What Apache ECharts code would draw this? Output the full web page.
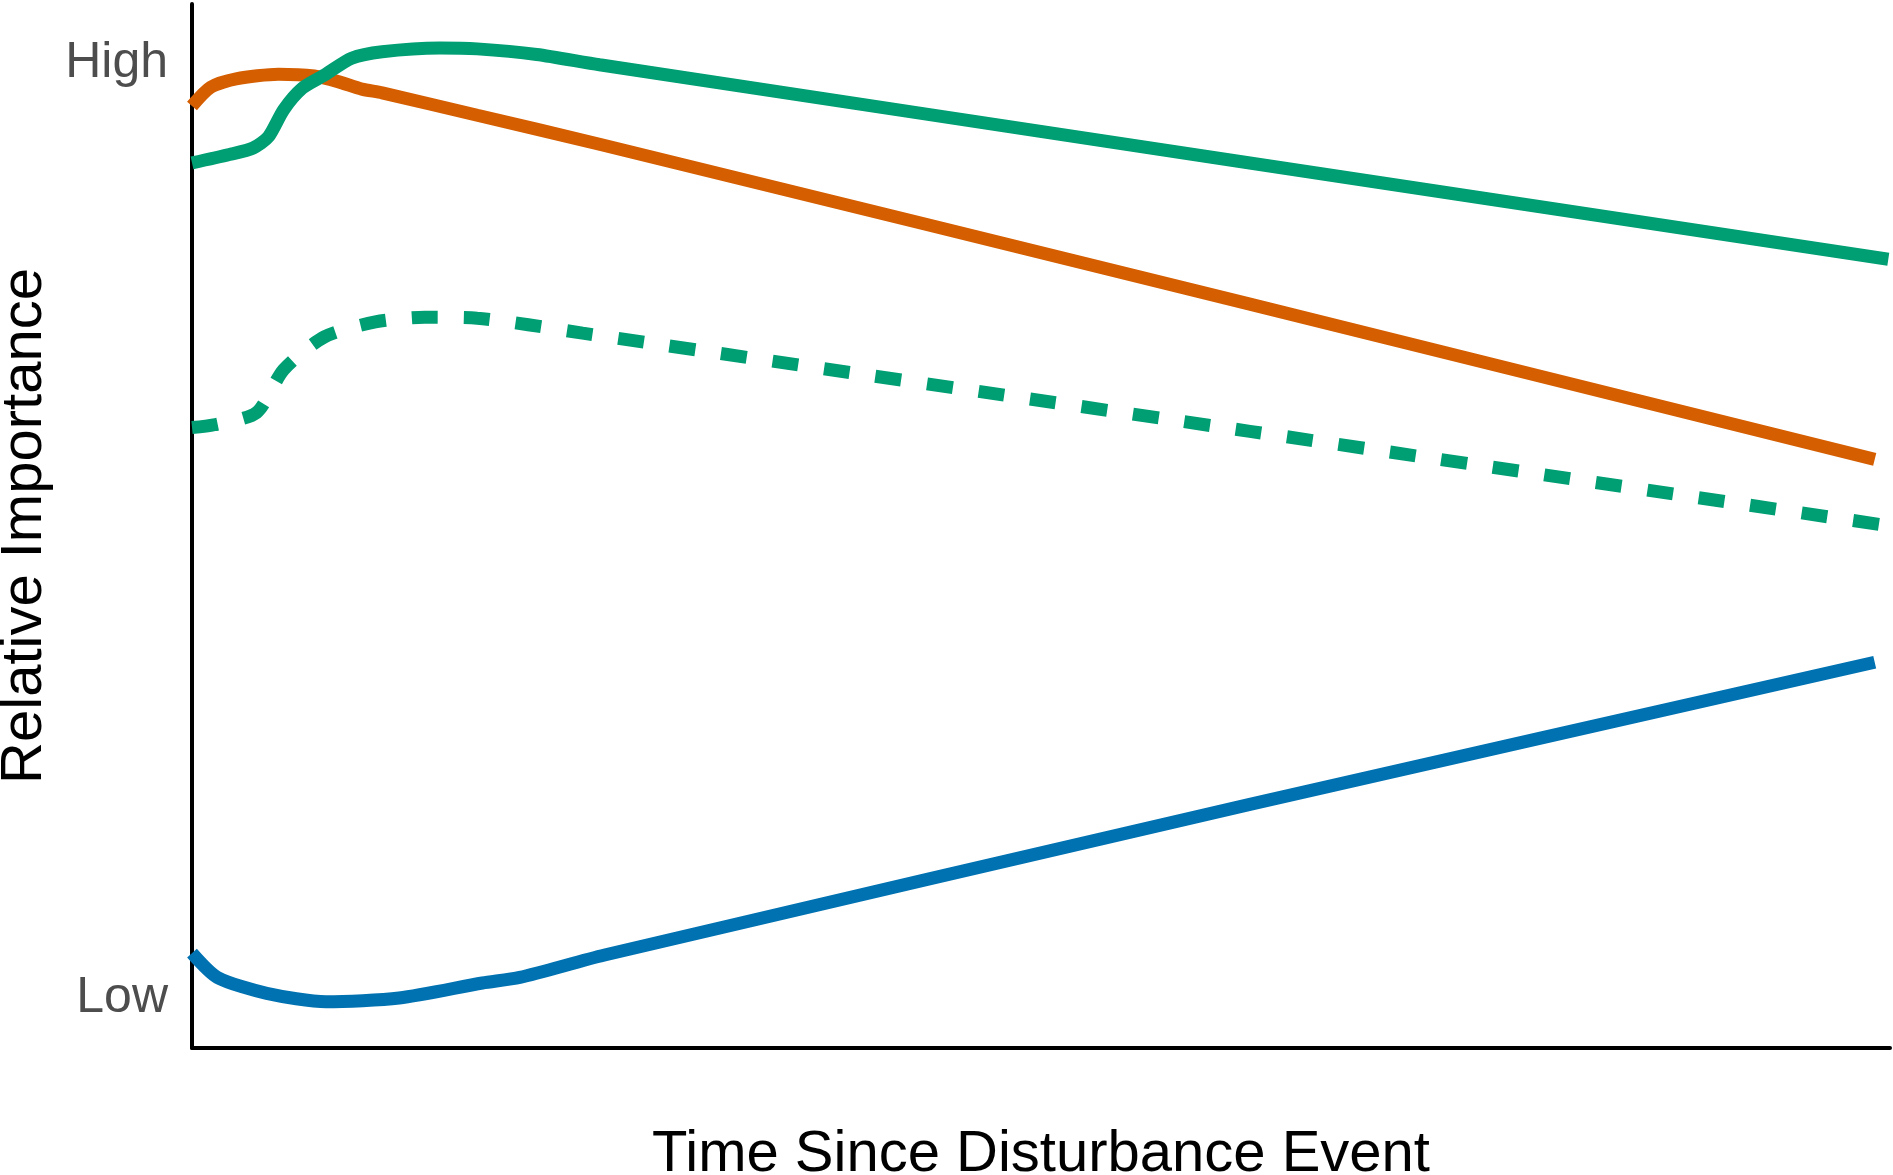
<!DOCTYPE html>
<html>
<head>
  <meta charset="utf-8">
  <title>Relative Importance vs Time Since Disturbance</title>
  <script src="https://cdn.jsdelivr.net/npm/echarts@6/dist/echarts.min.js"></script>
</head>
<body style="margin:0">
<div id="chart-container" style="width:1893px;height:1175px;background:#fff"></div>
<script type="text/javascript">
  // x: time (0-100), y: relative importance (Low = 0, High = 1)
  var orangeLine = [[0,0.954],[1.1,0.974],[2.6,0.983],[5.1,0.988],[7.2,0.986],[8.6,0.980],[10.0,0.972],[11.2,0.968],[16.8,0.944],[24.0,0.913],[62.3,0.742],[99.1,0.576]];
  var greenLine = [[0,0.893],[2.2,0.902],[3.6,0.909],[4.5,0.921],[5.4,0.950],[6.5,0.973],[7.8,0.987],[9.4,1.005],[11.2,1.012],[14.6,1.016],[16.8,1.015],[20.3,1.009],[24.0,0.998],[62.3,0.893],[99.9,0.790]];
  var greenDashed = [[0,0.610],[1.3,0.613],[3.8,0.626],[5.4,0.672],[7.8,0.707],[10.8,0.723],[13.7,0.728],[16.8,0.727],[19.8,0.720],[23.0,0.711],[62.3,0.606],[99.9,0.505]];
  var blueLine = [[0,0.048],[1.5,0.022],[4.4,0.005],[7.9,-0.004],[12.2,0.000],[17.1,0.016],[19.3,0.022],[24.3,0.046],[62.3,0.207],[99.1,0.359]];
  var yTicks = [0, 1];
  var yTickLabels = ['Low', 'High'];

  var dom = document.getElementById('chart-container');
  var myChart = echarts.init(dom, null, { renderer: 'canvas' });

  function line(data, color, dashed) {
    return {
      type: 'line',
      data: data,
      smooth: 0.25,
      symbol: 'none',
      silent: true,
      lineStyle: {
        color: color,
        width: 13,
        type: dashed ? [26, 26] : 'solid',
        cap: 'butt'
      }
    };
  }

  var option = {
    animation: false,
    textStyle: { fontFamily: 'Liberation Sans, Arial, sans-serif' },
    grid: { left: 192, right: 3, top: 4, bottom: 127, outerBoundsMode: 'none' },
    xAxis: {
      type: 'value',
      min: 0,
      max: 100,
      name: 'Time Since Disturbance Event',
      nameLocation: 'middle',
      nameGap: 78,
      nameTextStyle: { fontSize: 58, color: '#000' },
      axisLine: { show: true, onZero: false, lineStyle: { color: '#000', width: 4 } },
      axisTick: { show: false },
      axisLabel: { show: false },
      splitLine: { show: false }
    },
    yAxis: {
      type: 'value',
      min: -0.0535,
      max: 1.063,
      name: 'Relative Importance',
      nameLocation: 'middle',
      nameGap: 129,
      nameTextStyle: { fontSize: 58, color: '#000' },
      axisLine: { show: true, onZero: false, lineStyle: { color: '#000', width: 4 } },
      axisTick: { show: false },
      splitLine: { show: false },
      axisLabel: {
        customValues: yTicks,
        fontSize: 50,
        color: '#4d4d4d',
        margin: 24,
        formatter: function (v) {
          var i = yTicks.indexOf(v);
          return i >= 0 ? yTickLabels[i] : '';
        }
      }
    },
    series: [
      line(greenDashed, '#009E73', true),
      line(blueLine, '#0072B2', false),
      line(orangeLine, '#D55E00', false),
      line(greenLine, '#009E73', false)
    ]
  };

  myChart.setOption(option);
  window.addEventListener('resize', myChart.resize);
</script>
</body>
</html>
